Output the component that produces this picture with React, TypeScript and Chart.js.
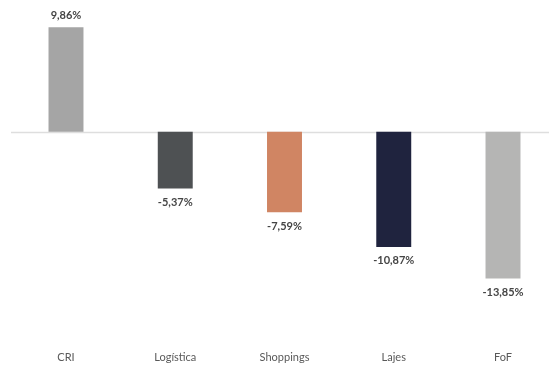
import React, { useEffect, useRef } from "react";
import { Chart, registerables } from "chart.js";

Chart.register(...registerables);

const categories = ["CRI", "Logística", "Shoppings", "Lajes", "FoF"];
const values = [9.86, -5.37, -7.59, -10.87, -13.85];
const valueLabels = ["9,86%", "-5,37%", "-7,59%", "-10,87%", "-13,85%"];
const barColors = ["#a5a5a5", "#4e5153", "#d08563", "#1f233e", "#b5b5b4"];

const zeroLinePlugin = {
  id: "zeroLine",
  beforeDatasetsDraw(chart: any) {
    const { ctx, scales, chartArea } = chart;
    const y = Math.round(scales.y.getPixelForValue(0)) + 0.5;
    ctx.save();
    ctx.strokeStyle = "#dedede";
    ctx.lineWidth = 1.5;
    ctx.beginPath();
    ctx.moveTo(chartArea.left - 55, y);
    ctx.lineTo(chart.width, y);
    ctx.stroke();
    ctx.restore();
  },
};

const valueLabelPlugin = {
  id: "valueLabels",
  afterDatasetsDraw(chart: any) {
    const { ctx } = chart;
    const meta = chart.getDatasetMeta(0);
    ctx.save();
    ctx.font = "bold 11px Lato";
    ctx.fillStyle = "#454545";
    ctx.textAlign = "center";
    ctx.textBaseline = "middle";
    meta.data.forEach((el: any, i: number) => {
      const v = values[i];
      const y = v >= 0 ? el.y - 11.5 : el.y + 14;
      ctx.fillText(valueLabels[i], el.x, y);
    });
    ctx.restore();
  },
};

export default function App() {
  const ref = useRef<HTMLCanvasElement | null>(null);

  useEffect(() => {
    if (!ref.current) return;
    const chart = new Chart(ref.current, {
      type: "bar",
      data: {
        labels: categories,
        datasets: [
          {
            data: values,
            backgroundColor: barColors,
            borderWidth: 0,
            barPercentage: 0.32,
            categoryPercentage: 1,
            clip: false as any,
          },
        ],
      },
      options: {
        animation: false,
        responsive: false,
        devicePixelRatio: 1,
        layout: { padding: { left: 66, right: 46, top: 4.5, bottom: 0.7 } },
        plugins: {
          legend: { display: false },
          tooltip: { enabled: false },
        },
        scales: {
          x: {
            offset: false,
            grid: { display: false, drawTicks: false, tickLength: 0 },
            border: { display: false },
            ticks: {
              font: { family: "Lato", size: 11 },
              color: "#595959",
              padding: 6.7,
              maxRotation: 0,
              autoSkip: false,
            },
          },
          y: {
            display: false,
            min: -20,
            max: 12,
          },
        },
      },
      plugins: [zeroLinePlugin, valueLabelPlugin],
    });
    return () => chart.destroy();
  }, []);

  return (
    <div
      style={{
        position: "fixed",
        left: 0,
        top: 0,
        width: 549,
        height: 371,
        background: "#ffffff",
      }}
    >
      <canvas ref={ref} width={549} height={371} style={{ display: "block", width: 549, height: 371 }} />
    </div>
  );
}
